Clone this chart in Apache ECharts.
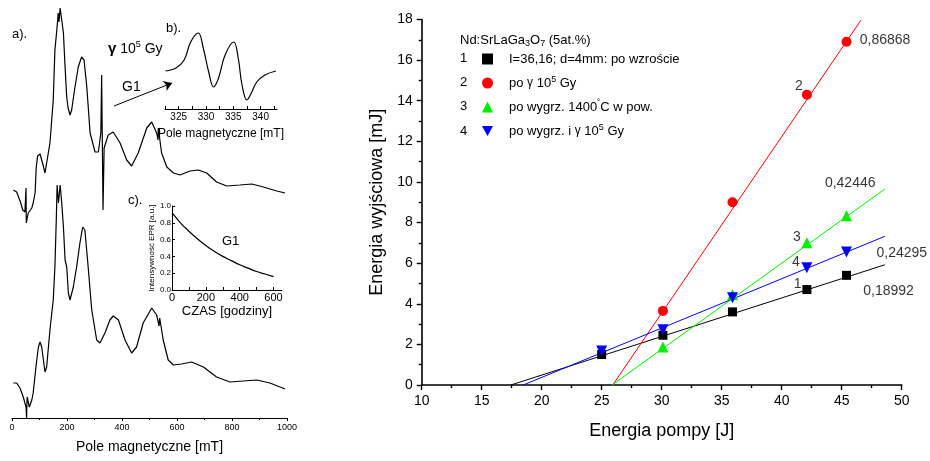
<!DOCTYPE html>
<html>
<head>
<meta charset="utf-8">
<script src="https://cdn.jsdelivr.net/npm/echarts@6/dist/echarts.min.js"></script>
<style>
  html, body { margin: 0; padding: 0; background: #fff; }
  #chart { width: 930px; height: 461px; }
</style>
</head>
<body>
<div id="chart"></div>
<script>
// ---- Laser output vs pump energy (Nd:SrLaGa3O7) ----
const pumpGrown    = [25.0, 30.1, 35.9, 42.1, 45.4];
const outGrown     = [1.5, 2.45, 3.6, 4.7, 5.4];
const pumpGamma    = [30.1, 35.9, 42.1, 45.4];
const outGamma     = [3.65, 9.0, 14.3, 16.9];
const pumpAnnealed = [30.1, 35.9, 42.1, 45.4];
const outAnnealed  = [1.87, 4.45, 7.0, 8.33];
const pumpAnnGamma = [25.0, 30.1, 35.9, 42.1, 45.4];
const outAnnGamma  = [1.67, 2.72, 4.3, 5.77, 6.55];

// slope efficiencies (mJ/J), thresholds (J) and end of each fitted line (J)
const slopes     = [0.18992, 0.86868, 0.42446, 0.24295];
const thresholds = [17.43, 25.92, 25.86, 18.46];
const fitEnds    = [48.6, 46.6, 48.6, 48.6];
const slopeText  = ['0,18992', '0,86868', '0,42446', '0,24295'];
const slopeTextAt = [[46.8, 4.63], [46.5, 17.0], [43.6, 9.95], [47.9, 6.5]];
const curveNoAt   = [[41.0, 4.98], [41.1, 14.7], [40.95, 7.29], [40.86, 6.06]];

const energyTicks = [10, 50, 5];
const outputTicks = [0, 18, 2];

// ---- EPR spectra: [field mT, intensity a.u.] ----
const eprIrradiated = [
  [5,228],[17,226],[23,225],[32,215],[39,208],[47,206],[51,230],[52,195],[59,205],[72,210],
  [77,215],[84,225],[88,250],[93,262],[102,264],[113,253],[120,245],[126,247],[138,275],[150,318],
  [156,368],[163,388],[168,405],[171,396],[175,410],[181,410],[187,385],[193,351],[199,321],[204,310],
  [211,303],[217,308],[229,331],[241,351],[253,361],[262,358],[272,331],[284,285],[302,266],[314,266],
  [323,285],[326,343],[331,208],[335,270],[338,268],[350,283],[368,286],[393,275],[417,258],[435,252],
  [459,265],[490,290],[508,296],[526,285],[531,278],[532,290],[544,265],[563,251],[587,245],[611,243],
  [647,247],[677,248],[708,245],[744,236],[781,232],[829,233],[872,234],[914,231],[963,227],[993,225]
];
const eprGrown = [
  [5,35],[17,35],[29,30],[41,21],[51,11],[53,0],[55,21],[63,11],[72,18],[77,25],
  [87,51],[96,71],[102,76],[108,71],[120,46],[126,51],[138,88],[150,118],[156,151],[161,198],
  [164,233],[169,215],[175,233],[180,218],[187,191],[193,158],[199,151],[205,125],[211,118],[223,131],
  [235,151],[247,175],[257,191],[265,188],[277,151],[290,108],[308,78],[320,75],[338,85],[356,98],
  [368,102],[387,98],[411,78],[435,65],[453,71],[477,95],[508,110],[526,103],[535,92],[537,100],
  [550,78],[568,58],[587,53],[617,54],[653,56],[696,51],[744,41],[793,36],[841,37],[890,38],
  [938,35],[993,29]
];
const fieldTicks = [0, 1000, 200];

// G1 line around g = 2
const g1Line = [
  [322.6,38],[324.5,41],[326.0,49],[327.2,67],[328.6,76],[329.5,61],[330.5,37],[331.4,22],[332.3,31],
  [333.5,54],[335.1,67],[335.9,51],[336.6,24],[337.5,9],[338.3,16],[339.3,27],[340.8,34],[342.8,38]
];
const g1FieldLabels = [325, 330, 335, 340];
const g1FieldTicks  = [322.5, 325, 327.5, 330, 332.5, 335, 337.5, 340, 342.5];

// G1 intensity decay vs time
const decayHours = [0, 50, 100, 150, 200, 250, 300, 350, 400, 450, 500, 550, 600];
const decayValue = [0.92, 0.80, 0.70, 0.61, 0.53, 0.46, 0.40, 0.35, 0.30, 0.26, 0.22, 0.19, 0.16];
const hourLabels = [0, 200, 400, 600];
const hourTicks  = [0, 100, 200, 300, 400, 500, 600];

// arrow from the spectrum to the G1 line [field, intensity]
const g1Arrow = [[371, 312], [582, 335]];

const FONT = "'Liberation Sans', Arial, sans-serif";
const pairs = (xs, ys) => xs.map((x, i) => [x, ys[i]]);
const fitLine = i => [[thresholds[i], 0], [fitEnds[i], +(slopes[i] * (fitEnds[i] - thresholds[i])).toFixed(3)]];

const sup = { fontSize: 9, lineHeight: 9, verticalAlign: 'top', fontFamily: FONT, color: '#000' };
const sub = { fontSize: 9, lineHeight: 9, verticalAlign: 'bottom', fontFamily: FONT, color: '#000' };

const chart = echarts.init(document.getElementById('chart'), null, { renderer: 'canvas' });

const axisBlack = { lineStyle: { color: '#000', width: 1.6 } };

const seriesNames = ['wzrost', 'gamma', 'wygrz', 'wygrzGamma'];
const legendLabels = {
  wzrost: 'I=36,16; d=4mm: po wzro\u015Bcie',
  gamma: 'po {g|\u03B3} 10{sup|5} Gy',
  wygrz: 'po wygrz. 1400{sup|\u02DA}C w pow.',
  wygrzGamma: 'po wygrz. i {g|\u03B3} 10{sup|5} Gy'
};
const colors = ['#000000', '#ff0000', '#00ee00', '#0000ff'];
const symbols = ['rect', 'circle', 'triangle', 'triangle'];

const option = {
  animation: false,
  textStyle: { fontFamily: FONT, color: '#000' },
  grid: [
    { left: 421.7, right: 28.3, top: 19.5, bottom: 76 },
    { left: 12, right: 643, top: 0, bottom: 43 },
    { left: 165, right: 653, top: 25, bottom: 352 },
    { left: 172, right: 648, top: 206, bottom: 171 }
  ],
  xAxis: [
    {
      type: 'value', gridIndex: 0, min: energyTicks[0], max: energyTicks[1], interval: energyTicks[2],
      axisLine: axisBlack,
      axisTick: { length: 5, lineStyle: { color: '#000', width: 1.4 } },
      minorTick: { show: true, splitNumber: 2, length: 3, lineStyle: { color: '#000', width: 1.4 } },
      splitLine: { show: false },
      axisLabel: { fontSize: 14, color: '#000', margin: 9, fontFamily: FONT },
      name: 'Energia pompy [J]', nameLocation: 'middle', nameGap: 37,
      nameTextStyle: { fontSize: 18, color: '#000', fontFamily: FONT }
    },
    {
      type: 'value', gridIndex: 1, min: fieldTicks[0], max: fieldTicks[1], interval: fieldTicks[2],
      axisLine: { lineStyle: { color: '#000', width: 1 } },
      axisTick: { length: 3, lineStyle: { color: '#000' } },
      minorTick: { show: true, splitNumber: 2, length: 2, lineStyle: { color: '#000' } },
      splitLine: { show: false },
      axisLabel: {
        fontSize: 9, color: '#000', margin: 5, formatter: v => String(v),
        fontFamily: "'Liberation Sans Narrow', " + FONT
      },
      name: 'Pole magnetyczne [mT]', nameLocation: 'middle', nameGap: 22,
      nameTextStyle: { fontSize: 14, color: '#000', fontFamily: FONT }
    },
    {
      type: 'value', gridIndex: 2, min: 322.5, max: 343,
      axisLine: { lineStyle: { color: '#000', width: 1 } },
      axisTick: { inside: true, length: 3, customValues: g1FieldTicks, lineStyle: { color: '#000' } },
      splitLine: { show: false },
      axisLabel: { customValues: g1FieldLabels, fontSize: 10, color: '#000', margin: 3, fontFamily: FONT },
      name: 'Pole magnetyczne [mT]', nameLocation: 'middle', nameGap: 19,
      nameTextStyle: { fontSize: 12, color: '#000', fontFamily: FONT }
    },
    {
      type: 'value', gridIndex: 3, min: 0, max: 650,
      axisLine: { lineStyle: { color: '#000', width: 1 } },
      axisTick: { inside: true, length: 3, customValues: hourTicks, lineStyle: { color: '#000' } },
      splitLine: { show: false },
      axisLabel: { customValues: hourLabels, fontSize: 11, color: '#000', margin: 2, fontFamily: FONT },
      name: 'CZAS [godziny]', nameLocation: 'middle', nameGap: 15,
      nameTextStyle: { fontSize: 13, color: '#000', fontFamily: FONT }
    }
  ],
  yAxis: [
    {
      type: 'value', gridIndex: 0, min: outputTicks[0], max: outputTicks[1], interval: outputTicks[2],
      axisLine: axisBlack,
      axisTick: { length: 5, lineStyle: { color: '#000', width: 1.4 } },
      minorTick: { show: true, splitNumber: 2, length: 3, lineStyle: { color: '#000', width: 1.4 } },
      splitLine: { show: false },
      axisLabel: { fontSize: 14, color: '#000', margin: 9, fontFamily: FONT },
      name: 'Energia wyj\u015Bciowa [mJ]', nameLocation: 'middle', nameGap: 34,
      nameTextStyle: { fontSize: 18, color: '#000', fontFamily: FONT }
    },
    { type: 'value', gridIndex: 1, min: 0, max: 418, show: false },
    { type: 'value', gridIndex: 2, min: 0, max: 84, show: false },
    {
      type: 'value', gridIndex: 3, min: 0, max: 1, interval: 0.2,
      axisLine: { show: true, lineStyle: { color: '#000', width: 1 } },
      axisTick: { show: true, inside: true, length: 3, lineStyle: { color: '#000' } },
      splitLine: { show: false },
      axisLabel: { fontSize: 8, color: '#000', margin: 1, formatter: v => v.toFixed(1), fontFamily: FONT },
      name: 'Intensywno\u015B\u0107 EPR [a.u.]', nameLocation: 'middle', nameGap: 16,
      nameTextStyle: { fontSize: 8, color: '#000', fontFamily: FONT }
    }
  ],
  legend: {
    orient: 'vertical', left: 477, top: 46, itemWidth: 11, itemHeight: 11, itemGap: 8,
    selectedMode: false,
    data: [
      { name: 'wzrost', icon: 'rect' },
      { name: 'gamma', icon: 'circle' },
      { name: 'wygrz', icon: 'triangle' },
      { name: 'wygrzGamma', icon: 'path://M0,0L10,0L5,9Z' }
    ],
    formatter: name => legendLabels[name],
    textStyle: {
      fontSize: 13, lineHeight: 16, color: '#000', fontFamily: FONT, padding: [0, 0, 0, 11],
      rich: { sup: sup, g: { fontSize: 12, lineHeight: 16, fontFamily: FONT, color: '#000' } }
    }
  },
  graphic: [
    { type: 'text', left: 12, top: 28, style: { text: 'a).', fontSize: 13, fontFamily: FONT, fill: '#000' } },
    {
      type: 'text', left: 108, top: 40,
      style: {
        text: '{g|\u03B3} 10{sup|5} Gy', fontSize: 14, lineHeight: 18, fontFamily: FONT, fill: '#000',
        rich: { g: { fontSize: 15, fontWeight: 'bold', lineHeight: 18, fontFamily: FONT }, sup: sup }
      }
    },
    { type: 'text', left: 122, top: 80, style: { text: 'G1', fontSize: 14, fontFamily: FONT, fill: '#000' } },
    { type: 'text', left: 166, top: 22, style: { text: 'b).', fontSize: 13, fontFamily: FONT, fill: '#000' } },
    { type: 'text', left: 128, top: 194, style: { text: 'c).', fontSize: 13, fontFamily: FONT, fill: '#000' } },
    { type: 'text', left: 222, top: 235, style: { text: 'G1', fontSize: 13, fontFamily: FONT, fill: '#000' } },
    {
      type: 'text', left: 460, top: 32,
      style: {
        text: 'Nd:SrLaGa{sub|3}O{sub|7} (5at.%)', fontSize: 13, lineHeight: 16, fontFamily: FONT, fill: '#000',
        rich: { sub: sub }
      }
    },
    { type: 'text', left: 460, top: 52, style: { text: '1', fontSize: 13, fontFamily: FONT, fill: '#000' } },
    { type: 'text', left: 460, top: 76, style: { text: '2', fontSize: 13, fontFamily: FONT, fill: '#000' } },
    { type: 'text', left: 460, top: 100, style: { text: '3', fontSize: 13, fontFamily: FONT, fill: '#000' } },
    { type: 'text', left: 460, top: 125, style: { text: '4', fontSize: 13, fontFamily: FONT, fill: '#000' } }
  ],
  series: []
};

// fitted lines (drawn first, under the markers)
for (let i = 0; i < 4; i++) {
  option.series.push({
    type: 'line', xAxisIndex: 0, yAxisIndex: 0, data: fitLine(i), showSymbol: false,
    lineStyle: { color: colors[i], width: 1 }, silent: true, z: 2
  });
}
// measured points
const pointSets = [
  pairs(pumpGrown, outGrown), pairs(pumpGamma, outGamma),
  pairs(pumpAnnealed, outAnnealed), pairs(pumpAnnGamma, outAnnGamma)
];
for (let i = 0; i < 4; i++) {
  option.series.push({
    name: seriesNames[i], type: 'scatter', xAxisIndex: 0, yAxisIndex: 0,
    data: pointSets[i], symbol: symbols[i], symbolRotate: i === 3 ? 180 : 0,
    symbolSize: i === 1 ? 10 : (i === 0 ? 9 : 11),
    itemStyle: { color: colors[i], opacity: 1 }, z: 3
  });
}
// slope and curve-number notes
option.series.push({
  type: 'scatter', xAxisIndex: 0, yAxisIndex: 0, symbolSize: 0, silent: true,
  data: slopeTextAt.map((p, i) => ({ value: p, label: { formatter: slopeText[i] } })),
  label: { show: true, position: 'right', distance: 0, fontSize: 14, color: '#000', fontFamily: FONT }
});
option.series.push({
  type: 'scatter', xAxisIndex: 0, yAxisIndex: 0, symbolSize: 0, silent: true,
  data: curveNoAt.map((p, i) => ({ value: p, label: { formatter: String(i + 1) } })),
  label: { show: true, position: 'right', distance: 0, fontSize: 14, color: '#000', fontFamily: FONT }
});
// EPR spectra
[eprIrradiated, eprGrown].forEach(d => option.series.push({
  type: 'line', xAxisIndex: 1, yAxisIndex: 1, data: d, showSymbol: false,
  lineStyle: { color: '#000', width: 1.2 }, silent: true
}));
option.series.push({
  type: 'lines', coordinateSystem: 'cartesian2d', xAxisIndex: 1, yAxisIndex: 1,
  data: [{ coords: g1Arrow }], symbol: ['none', 'arrow'], symbolSize: 8,
  lineStyle: { color: '#000', width: 1, opacity: 1 }, itemStyle: { color: '#000' }, silent: true
});
option.series.push({
  type: 'line', xAxisIndex: 2, yAxisIndex: 2, data: g1Line, showSymbol: false, smooth: 0.4,
  lineStyle: { color: '#000', width: 1.2 }, silent: true
});
option.series.push({
  type: 'line', xAxisIndex: 3, yAxisIndex: 3, data: pairs(decayHours, decayValue), showSymbol: false, smooth: true,
  lineStyle: { color: '#000', width: 1.2 }, silent: true
});

chart.setOption(option);
</script>
</body>
</html>
